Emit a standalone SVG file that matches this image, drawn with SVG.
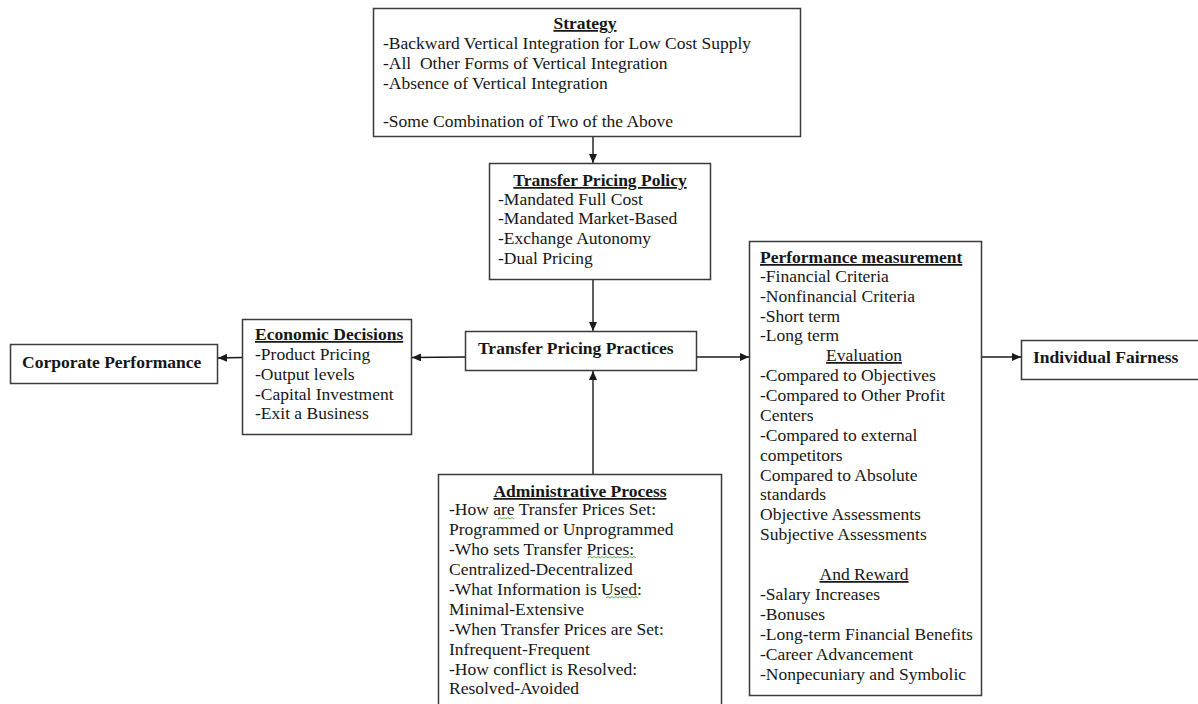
<svg xmlns="http://www.w3.org/2000/svg" width="1198" height="704" viewBox="0 0 1198 704">
<style>
.box{fill:#fff;stroke:#3a3a3a;stroke-width:1.5}
text{font-family:"Liberation Serif","Times New Roman",serif;font-size:17.5px;fill:#161616}
.t{font-weight:bold;text-decoration:underline}
.b{font-weight:bold}
.u{text-decoration:underline}
.c{text-anchor:middle}
.con{stroke:#1a1a1a;stroke-width:1.4;fill:none}
.sq{stroke:#5fae5f;stroke-width:1;fill:none}
</style>
<defs>
<marker id="ah" markerWidth="10" markerHeight="8" refX="9" refY="4" orient="auto" markerUnits="userSpaceOnUse">
<path d="M0,0 L9,4 L0,8 Z" fill="#1a1a1a"/>
</marker>
</defs>
<rect width="1198" height="704" fill="#fff"/>
<g id="connectors">
<line class="con" x1="593" y1="136" x2="593" y2="163" marker-end="url(#ah)"/>
<line class="con" x1="593" y1="279" x2="593" y2="331" marker-end="url(#ah)"/>
<line class="con" x1="593" y1="474" x2="593" y2="371" marker-end="url(#ah)"/>
<line class="con" x1="465" y1="357" x2="412" y2="357.5" marker-end="url(#ah)"/>
<line class="con" x1="242" y1="357.5" x2="218" y2="358" marker-end="url(#ah)"/>
<line class="con" x1="696" y1="357" x2="749" y2="357" marker-end="url(#ah)"/>
<line class="con" x1="982" y1="357" x2="1021" y2="357" marker-end="url(#ah)"/>
</g>
<g id="strategy">
<rect class="box" x="373.5" y="8.5" width="427" height="128"/>
<text class="t c" x="585" y="29">Strategy</text>
<text x="383" y="49">-Backward Vertical Integration for Low Cost Supply</text>
<text x="383" y="69" xml:space="preserve">-All  Other Forms of Vertical Integration</text>
<text x="383" y="89">-Absence of Vertical Integration</text>
<text x="383" y="127">-Some Combination of Two of the Above</text>
</g>
<g id="transfer-pricing-policy">
<rect class="box" x="489.5" y="163.5" width="221" height="116"/>
<text class="t c" x="600" y="186">Transfer Pricing Policy</text>
<text x="498" y="205">-Mandated Full Cost</text>
<text x="498" y="224">-Mandated Market-Based</text>
<text x="498" y="244">-Exchange Autonomy</text>
<text x="498" y="264">-Dual Pricing</text>
</g>
<g id="transfer-pricing-practices">
<rect class="box" x="465.5" y="331.5" width="231" height="39"/>
<text class="b" x="478" y="354">Transfer Pricing Practices</text>
</g>
<g id="economic-decisions">
<rect class="box" x="242.5" y="319.5" width="169" height="115"/>
<text class="t" x="255" y="340">Economic Decisions</text>
<text x="255" y="360">-Product Pricing</text>
<text x="255" y="380">-Output levels</text>
<text x="255" y="400">-Capital Investment</text>
<text x="255" y="419">-Exit a Business</text>
</g>
<g id="corporate-performance">
<rect class="box" x="10.5" y="344.5" width="207" height="39"/>
<text class="b" x="22" y="368">Corporate Performance</text>
</g>
<g id="administrative-process">
<rect class="box" x="438.5" y="474.5" width="283" height="245"/>
<text class="t c" x="580" y="497">Administrative Process</text>
<text x="449" y="515">-How are Transfer Prices Set:</text>
<text x="449" y="535">Programmed or Unprogrammed</text>
<text x="449" y="555">-Who sets Transfer Prices:</text>
<text x="449" y="575">Centralized-Decentralized</text>
<text x="449" y="595">-What Information is Used:</text>
<text x="449" y="615">Minimal-Extensive</text>
<text x="449" y="635">-When Transfer Prices are Set:</text>
<text x="449" y="655">Infrequent-Frequent</text>
<text x="449" y="675">-How conflict is Resolved:</text>
<text x="449" y="694">Resolved-Avoided</text>
<path class="sq" d="M498,519 l2,-1.5 2,1.5 2,-1.5 2,1.5 2,-1.5 2,1.5 2,-1.5 2,1.5"/>
<path class="sq" d="M588,558 l2,-1.5 2,1.5 2,-1.5 2,1.5 2,-1.5 2,1.5 2,-1.5 2,1.5 2,-1.5 2,1.5 2,-1.5 2,1.5 2,-1.5 2,1.5 2,-1.5 2,1.5 2,-1.5 2,1.5 2,-1.5 2,1.5 2,-1.5 2,1.5 2,-1.5 2,1.5"/>
<path class="sq" d="M606,598 l2,-1.5 2,1.5 2,-1.5 2,1.5 2,-1.5 2,1.5 2,-1.5 2,1.5 2,-1.5 2,1.5 2,-1.5 2,1.5 2,-1.5 2,1.5 2,-1.5 2,1.5"/>
</g>
<g id="performance-measurement">
<rect class="box" x="749.5" y="241.5" width="232" height="454"/>
<text class="t" x="760" y="263">Performance measurement</text>
<text x="760" y="282">-Financial Criteria</text>
<text x="760" y="302">-Nonfinancial Criteria</text>
<text x="760" y="322">-Short term</text>
<text x="760" y="341">-Long term</text>
<text class="u c" x="864" y="361">Evaluation</text>
<text x="760" y="381">-Compared to Objectives</text>
<text x="760" y="401">-Compared to Other Profit</text>
<text x="760" y="421">Centers</text>
<text x="760" y="441">-Compared to external</text>
<text x="760" y="461">competitors</text>
<text x="760" y="481">Compared to Absolute</text>
<text x="760" y="500">standards</text>
<text x="760" y="520">Objective Assessments</text>
<text x="760" y="540">Subjective Assessments</text>
<text class="u c" x="864" y="580">And Reward</text>
<text x="760" y="600">-Salary Increases</text>
<text x="760" y="620">-Bonuses</text>
<text x="760" y="640">-Long-term Financial Benefits</text>
<text x="760" y="660">-Career Advancement</text>
<text x="760" y="680">-Nonpecuniary and Symbolic</text>
</g>
<g id="individual-fairness">
<rect class="box" x="1021.5" y="340.5" width="190" height="39"/>
<text class="b" x="1033" y="363">Individual Fairness</text>
</g>
</svg>
